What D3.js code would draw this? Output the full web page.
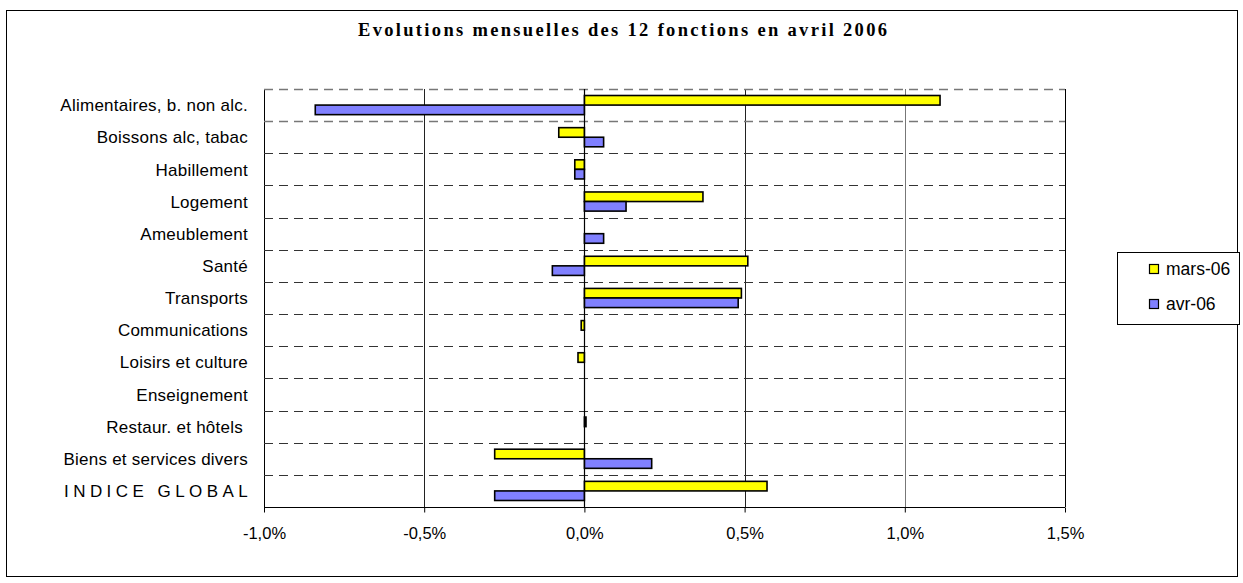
<!DOCTYPE html>
<html>
<head>
<meta charset="utf-8">
<script src="https://cdn.jsdelivr.net/npm/d3@7"></script>
<style>
    body { margin: 0; background: #fff; }
    svg { display: block; }
    text { font-family: "Liberation Sans", Arial, sans-serif; fill: #000; }
</style>
</head>
<body>
<div id="chart"></div>
<script>
// Data
const categories = [
    "Alimentaires, b. non alc.",
    "Boissons alc, tabac",
    "Habillement",
    "Logement",
    "Ameublement",
    "Santé",
    "Transports",
    "Communications",
    "Loisirs et culture",
    "Enseignement",
    "Restaur. et hôtels ",
    "Biens et services divers",
    "INDICE GLOBAL"
];
const seriesNames = ["mars-06", "avr-06"];
const mars06 = [1.11, -0.08, -0.03, 0.37, 0, 0.51, 0.49, -0.01, -0.02, 0, 0.005, -0.28, 0.57];
const avr06 = [-0.84, 0.06, -0.03, 0.13, 0.06, -0.10, 0.48, 0, 0, 0, 0, 0.21, -0.28];
const xTicks = [-1.0, -0.5, 0.0, 0.5, 1.0, 1.5];

const colors = { "mars-06": "#FFFF00", "avr-06": "#8080FF" };

// Layout
const width = 1243, height = 583;
const plot = { left: 264, right: 1065, top: 89, bottom: 507 };

const svg = d3.select("#chart").append("svg")
    .attr("width", width)
    .attr("height", height);

// chart border
svg.append("rect")
    .attr("x", 6.5).attr("y", 10.5)
    .attr("width", 1231).attr("height", 566)
    .attr("fill", "#fff")
    .attr("stroke", "#000")
    .attr("stroke-width", 1);

// Title
svg.append("text")
    .attr("x", 622.5)
    .attr("y", 36)
    .attr("text-anchor", "middle")
    .attr("textLength", 529)
    .attr("lengthAdjust", "spacing")
    .style("font-family", "'Liberation Serif', 'Times New Roman', serif")
    .style("font-weight", "bold")
    .style("font-size", "18.5px")
    .text("Evolutions mensuelles des 12 fonctions en avril 2006");

// Scales
const x = d3.scaleLinear().domain([-1, 1.5]).range([plot.left, plot.right]);
const y = d3.scaleBand().domain(categories).range([plot.top, plot.bottom]).padding(0);
const ySub = d3.scaleBand().domain(seriesNames).range([0, y.bandwidth()])
    .paddingInner(0).paddingOuter(0.68);

// Vertical grid lines
svg.append("g")
    .selectAll("line")
    .data(xTicks.filter(d => d > -1 && d < 1.5 && d !== 0))
    .enter().append("line")
    .attr("x1", d => Math.round(x(d)) + 0.5)
    .attr("x2", d => Math.round(x(d)) + 0.5)
    .attr("y1", plot.top)
    .attr("y2", plot.bottom)
    .attr("stroke", d => d === 1 ? "#777" : "#222")
    .attr("stroke-width", 1);

// Plot left / right edges
[plot.left, plot.right].forEach(px => {
    svg.append("line")
        .attr("x1", px + 0.5).attr("x2", px + 0.5)
        .attr("y1", plot.top).attr("y2", plot.bottom)
        .attr("stroke", "#000");
});

// Horizontal dashed separators between categories
svg.append("g")
    .selectAll("line")
    .data(categories)
    .enter().append("line")
    .attr("x1", plot.left)
    .attr("x2", plot.right)
    .attr("y1", d => Math.round(y(d)) + 0.5)
    .attr("y2", d => Math.round(y(d)) + 0.5)
    .attr("stroke", (d, i) => i < 2 ? "#777" : "#333")
    .attr("stroke-width", (d, i) => i < 2 ? 1.5 : 1)
    .attr("stroke-dasharray", "9,6");

// Bars
const rows = [];
categories.forEach((c, i) => {
    rows.push({ cat: c, series: "mars-06", value: mars06[i] });
    rows.push({ cat: c, series: "avr-06", value: avr06[i] });
});

svg.append("g")
    .selectAll("rect")
    .data(rows.filter(d => d.value !== 0))
    .enter().append("rect")
    .attr("x", d => x(Math.min(0, d.value)))
    .attr("y", d => y(d.cat) + ySub(d.series))
    .attr("width", d => Math.abs(x(d.value) - x(0)))
    .attr("height", ySub.bandwidth())
    .attr("fill", d => colors[d.series])
    .attr("stroke", "#000")
    .attr("stroke-width", 1.6);

// Category axis line at zero
svg.append("line")
    .attr("x1", Math.round(x(0)) + 0.5).attr("x2", Math.round(x(0)) + 0.5)
    .attr("y1", plot.top).attr("y2", plot.bottom)
    .attr("stroke", "#000")
    .attr("stroke-width", 1.2);

// Category labels
svg.append("g")
    .selectAll("text")
    .data(categories)
    .enter().append("text")
    .attr("x", 248)
    .attr("y", d => y(d) + y.bandwidth() / 2)
    .attr("dy", "0.36em")
    .attr("text-anchor", "end")
    .style("font-size", "17px")
    .style("letter-spacing", "0.25px")
    .style("white-space", "pre")
    .each(function (d) {
        if (d === "INDICE GLOBAL") {
            d3.select(this).attr("textLength", 184).attr("lengthAdjust", "spacing");
        }
    })
    .text(d => d);

// Value axis
const xAxis = d3.axisBottom(x)
    .tickValues(xTicks)
    .tickSize(5)
    .tickPadding(15)
    .tickFormat(d => d.toFixed(1).replace(".", ",") + "%");

const axisG = svg.append("g")
    .attr("transform", `translate(0,${plot.bottom + 0.5})`)
    .call(xAxis);

axisG.select(".domain").attr("stroke", "#000").attr("d", `M${plot.left},0H${plot.right}`);
axisG.selectAll(".tick line").attr("stroke", "#000");
axisG.selectAll(".tick text")
    .style("font-family", "'Liberation Sans', Arial, sans-serif")
    .style("font-size", "16.5px")
    .attr("fill", "#000");

// Legend
const legend = svg.append("g");
legend.append("rect")
    .attr("x", 1117.5).attr("y", 252.5)
    .attr("width", 122).attr("height", 72)
    .attr("fill", "#fff")
    .attr("stroke", "#000");

const legendItems = legend.selectAll("g.item")
    .data(seriesNames)
    .enter().append("g")
    .attr("class", "item")
    .attr("transform", (d, i) => `translate(1149,${264 + i * 35})`);

legendItems.append("rect")
    .attr("x", 0.5).attr("y", 0.5)
    .attr("width", 9).attr("height", 9)
    .attr("fill", d => colors[d])
    .attr("stroke", "#000")
    .attr("stroke-width", 1.2);

legendItems.append("text")
    .attr("x", 17)
    .attr("y", 10.5)
    .style("font-size", "17.5px")
    .text(d => d);
</script>
</body>
</html>
